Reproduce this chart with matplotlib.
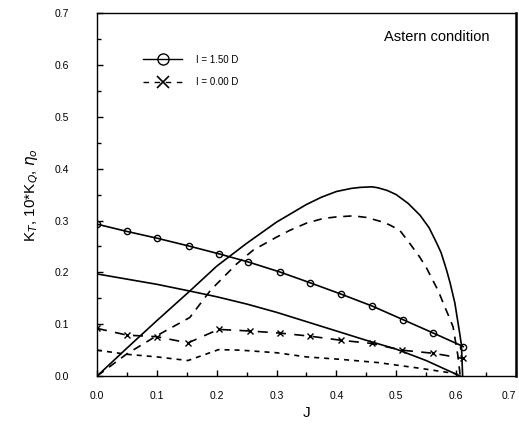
import matplotlib
matplotlib.use("Agg")
import matplotlib.pyplot as plt
from matplotlib.lines import Line2D
from matplotlib.ticker import MultipleLocator, FormatStrFormatter

plt.rcParams['font.family'] = ['Liberation Sans', 'DejaVu Sans']

# KT, I = 1.50 D (circles)
j_kt_150 = [0.0, 0.05, 0.10, 0.153, 0.203, 0.253, 0.305, 0.356, 0.408, 0.460, 0.511, 0.562, 0.612]
kt_150 = [0.293, 0.279, 0.266, 0.251, 0.236, 0.220, 0.201, 0.180, 0.158, 0.135, 0.109, 0.083, 0.057]

# KT, I = 0.00 D (crosses)
j_kt_000 = [0.0, 0.05, 0.10, 0.152, 0.203, 0.255, 0.305, 0.356, 0.408, 0.459, 0.509, 0.562, 0.612]
kt_000 = [0.092, 0.079, 0.076, 0.064, 0.090, 0.087, 0.083, 0.077, 0.069, 0.063, 0.050, 0.044, 0.034]

# 10*KQ, I = 1.50 D
j_kq_150 = [0.0, 0.05, 0.10, 0.155, 0.20, 0.25, 0.30, 0.35, 0.40, 0.45, 0.50, 0.55, 0.607]
kq_150 = [0.197, 0.187, 0.177, 0.164, 0.153, 0.139, 0.123, 0.105, 0.087, 0.069, 0.052, 0.030, 0.0]

# 10*KQ, I = 0.00 D
j_kq_000 = [0.0, 0.05, 0.10, 0.152, 0.203, 0.24, 0.30, 0.35, 0.41, 0.47, 0.54, 0.598, 0.61]
kq_000 = [0.050, 0.042, 0.037, 0.030, 0.051, 0.050, 0.045, 0.037, 0.032, 0.026, 0.015, 0.005, 0.0]

# eta_o, I = 1.50 D
j_eta_150 = [0.0, 0.05, 0.10, 0.155, 0.20, 0.25, 0.30, 0.35, 0.375, 0.40, 0.425, 0.44, 0.46,
             0.47, 0.485, 0.50, 0.52, 0.54, 0.555, 0.567, 0.575, 0.584, 0.59, 0.598, 0.606,
             0.609, 0.611]
eta_150 = [0.0, 0.054, 0.107, 0.164, 0.212, 0.256, 0.297, 0.331, 0.345, 0.356, 0.362, 0.364,
           0.365, 0.363, 0.358, 0.350, 0.333, 0.310, 0.286, 0.258, 0.238, 0.205, 0.180,
           0.141, 0.083, 0.060, 0.0]

# eta_o, I = 0.00 D
j_eta_000 = [0.0, 0.05, 0.10, 0.155, 0.19, 0.233, 0.261, 0.30, 0.322, 0.35, 0.378, 0.40,
             0.428, 0.45, 0.478, 0.49, 0.506, 0.52, 0.539, 0.55, 0.561, 0.57, 0.581, 0.588,
             0.595, 0.603, 0.607]
eta_000 = [0.0, 0.043, 0.078, 0.113, 0.166, 0.216, 0.243, 0.268, 0.281, 0.295, 0.304, 0.307,
           0.309, 0.306, 0.297, 0.291, 0.281, 0.260, 0.230, 0.210, 0.185, 0.165, 0.134,
           0.115, 0.095, 0.040, 0.0]

x_ticks = [0.0, 0.1, 0.2, 0.3, 0.4, 0.5, 0.6, 0.7]

fig = plt.figure(figsize=(5.19, 4.24), dpi=100)
ax = fig.add_axes([0.187, 0.113, 0.807, 0.856])

lw = 1.2
ax.plot(j_kt_150, kt_150, color='black', lw=lw, marker='o', ms=4.5,
        mfc='none', mec='black', mew=1.0)
ax.plot(j_kt_000, kt_000, color='black', lw=lw, ls=(0, (6, 5)), marker='x', ms=5, mew=1.0)
ax.plot(j_kq_150, kq_150, color='black', lw=lw)
ax.plot(j_kq_000, kq_000, color='black', lw=lw, ls=(0, (3, 3)))
ax.plot(j_eta_150, eta_150, color='black', lw=lw)
ax.plot(j_eta_000, eta_000, color='black', lw=lw, ls=(0, (5, 4)))

ax.set_xlim(0, 0.7)
ax.set_ylim(0, 0.7)
# last x label is placed by hand so it is not cut at the figure edge
ax.set_xticks(x_ticks, ['%.1f' % v for v in x_ticks[:-1]] + [''])
ax.yaxis.set_major_locator(MultipleLocator(0.1))
ax.xaxis.set_minor_locator(MultipleLocator(0.05))
ax.yaxis.set_minor_locator(MultipleLocator(0.05))
ax.yaxis.set_major_formatter(FormatStrFormatter('%.1f'))
ax.tick_params(which='both', direction='in', top=False, right=False, labelsize=7.5)
ax.tick_params(which='major', length=4, width=1)
ax.tick_params(which='minor', length=3, width=1)
ax.tick_params(axis='x', pad=11)
ax.tick_params(axis='y', pad=20)
for s in ['left', 'bottom', 'top']:
    ax.spines[s].set_linewidth(1.0)
ax.spines['right'].set_linewidth(1.8)

ax.annotate('%.1f' % x_ticks[-1], xy=(x_ticks[-1], 0), xycoords=('data', 'axes fraction'),
            xytext=(-5, -11), textcoords='offset points', ha='center', va='top', fontsize=7.5)

ax.set_xlabel('J', fontsize=11, labelpad=3)
ax.set_ylabel(r'K$_T$, 10*K$_Q$, $\eta_o$', fontsize=11, labelpad=10)

ax.text(0.938, 0.935, 'Astern condition', transform=ax.transAxes,
        ha='right', va='center', fontsize=10.5)

handles = [
    Line2D([], [], color='black', lw=1.0, marker='o', ms=8, mfc='none', mew=1.0),
    Line2D([], [], color='black', lw=1.0, ls=(0, (4, 4)), marker='x', ms=8, mew=1.2),
]
ax.legend(handles, ['I = 1.50 D', 'I = 0.00 D'], loc='upper left',
          bbox_to_anchor=(0.09, 0.91), frameon=False, fontsize=7,
          handlelength=4.0, handletextpad=1.4, labelspacing=1.3)

fig.savefig('out.png', dpi=100)
